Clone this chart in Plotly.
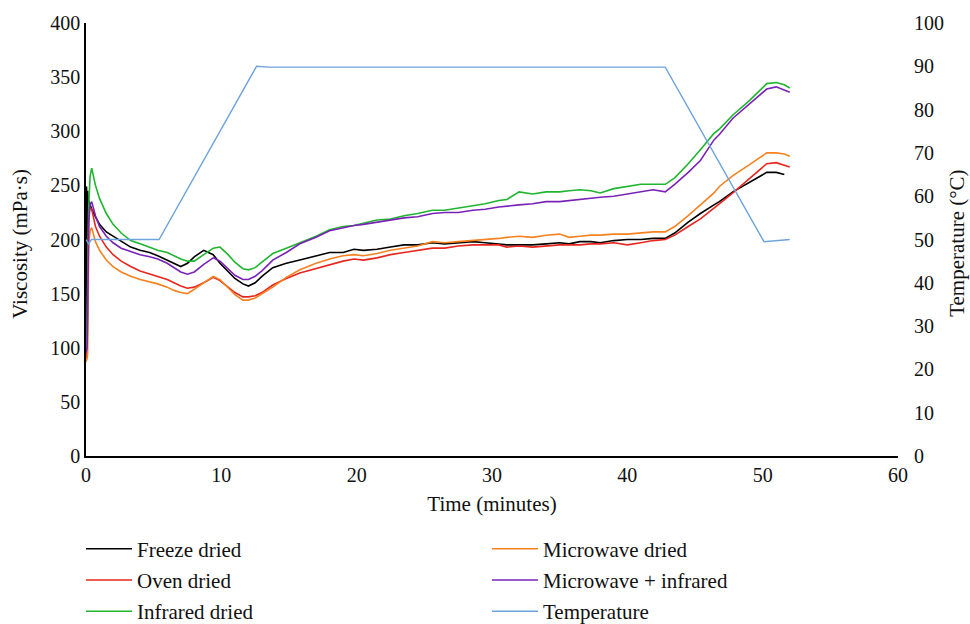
import plotly.graph_objects as go

# Shared time grid (minutes) for viscosity series
time_min = [0, 0.04, 0.08, 0.12, 0.16, 0.2, 0.3, 0.42, 0.7, 1.0,
            1.5, 2.0, 2.6, 3.3, 4.0, 4.7, 5.3, 6.0, 6.5, 7.0,
            7.5, 8.0, 8.7, 9.4, 9.9, 10.5, 11.0, 11.6, 12.0, 12.5,
            13.0, 13.8, 14.8, 15.8, 17.0, 18.0, 19.0, 19.8, 20.5, 21.5,
            22.5, 23.5, 24.5, 25.6, 26.5, 27.5, 28.6, 29.5, 30.5, 31.1,
            32.0, 33.0, 34.0, 35.0, 35.7, 36.5, 37.3, 38.0, 39.0, 40.0,
            41.0, 41.9, 42.8, 43.5, 44.5, 45.4, 46.4, 46.8, 47.8, 49.0,
            50.3, 51.0, 51.6, 52.0]

freeze_dried = [100, 249, 110, 245, 236, 236, 232, 228, 221, 214,
                207, 203, 198, 193, 190, 188, 185, 181, 178, 175,
                178, 184, 190, 186, 178, 170, 164, 159, 157, 160,
                166, 174, 178, 181, 185, 188, 188, 191, 190, 191,
                193, 195, 195, 197, 196, 197, 198, 197, 196, 195,
                195, 195, 196, 197, 196, 198, 198, 197, 199, 200,
                200, 201, 201, 206, 216, 224, 232, 235, 244, 253,
                262, 262, 260, None]

infrared_dried = [98, 100, 120, 160, 200, 230, 258, 266, 250, 238,
                  224, 214, 206, 199, 196, 193, 190, 188, 185, 182,
                  180, 180, 186, 192, 193, 186, 179, 173, 172, 174,
                  179, 187, 192, 197, 203, 209, 212, 213, 215, 218,
                  219, 222, 224, 227, 227, 229, 231, 233, 236, 237,
                  244, 242, 244, 244, 245, 246, 245, 243, 247, 249,
                  251, 251, 251, 257, 270, 283, 298, 302, 315, 328,
                  344, 345, 343, 340]

microwave_infrared = [95, 97, 100, 130, 180, 215, 232, 235, 222, 212,
                      203, 197, 192, 189, 186, 184, 182, 178, 174, 170,
                      168, 170, 177, 183, 180, 173, 167, 163, 163, 166,
                      171, 181, 188, 196, 202, 208, 211, 213, 214, 216,
                      218, 220, 221, 224, 225, 225, 227, 228, 230, 231,
                      232, 233, 235, 235, 236, 237, 238, 239, 240, 242,
                      244, 246, 244, 251, 262, 273, 292, 297, 312, 325,
                      339, 341, 338, 336]

oven_dried = [90, 92, 95, 140, 200, 225, 229, 228, 212, 203,
              193, 186, 180, 175, 171, 168, 166, 163, 160, 157,
              155, 156, 160, 165, 162, 156, 151, 147, 147, 148,
              151, 158, 164, 169, 173, 177, 180, 182, 181, 183,
              186, 188, 190, 192, 192, 194, 195, 195, 195, 193,
              194, 193, 194, 195, 195, 195, 196, 196, 197, 195,
              197, 199, 200, 204, 212, 219, 229, 233, 243, 256,
              270, 271, 269, 267]

microwave_dried = [87, 88, 90, 95, 150, 195, 208, 211, 198, 190,
                   181, 175, 170, 166, 163, 161, 159, 156, 153, 151,
                   150, 154, 160, 166, 163, 155, 149, 144, 144, 146,
                   150, 156, 165, 172, 178, 182, 185, 186, 185, 187,
                   190, 192, 194, 198, 197, 198, 199, 200, 201, 202,
                   203, 202, 204, 205, 202, 203, 204, 204, 205, 205,
                   206, 207, 207, 212, 222, 232, 243, 249, 259, 269,
                   280, 280, 279, 277]

temp_time = [0, 0.1, 0.2, 0.4, 5.4, 12.6, 13.5, 42.8, 50.1, 52.0]
temperature = [50, 49.3, 49, 50, 50, 90, 89.8, 89.8, 49.5, 50]

x_ticks = [0, 10, 20, 30, 40, 50, 60]
y_ticks = [0, 50, 100, 150, 200, 250, 300, 350, 400]
y2_ticks = [0, 10, 20, 30, 40, 50, 60, 70, 80, 90, 100]

x_title = "Time (minutes)"
y_title = "Viscosity (mPa·s)"
y2_title = "Temperature (°C)"

FONT = "Liberation Serif"

fig = go.Figure()

def add(name, y, color, legend):
    fig.add_trace(go.Scatter(x=time_min, y=y, mode="lines", name=name,
                             line=dict(color=color, width=1.6),
                             legend=legend, legendgroup=name, connectgaps=False))

add("Freeze dried", freeze_dried, "#000000", "legend")
add("Oven dried", oven_dried, "#e8261e", "legend")
add("Infrared dried", infrared_dried, "#1fb52f", "legend")
add("Microwave dried", microwave_dried, "#f5821f", "legend2")
add("Microwave + infrared", microwave_infrared, "#7a22b8", "legend2")
fig.add_trace(go.Scatter(x=temp_time, y=temperature, mode="lines", name="Temperature",
                         line=dict(color="#6fa3dc", width=1.4), yaxis="y2",
                         legend="legend2", legendgroup="Temperature"))

legend_common = dict(xref="container", yref="container", yanchor="top", xanchor="left",
                     orientation="v", font=dict(size=21), tracegroupgap=1,
                     itemwidth=46, bgcolor="rgba(0,0,0,0)")

fig.update_layout(
    width=970, height=624,
    margin=dict(l=86, r=72, t=23, b=168, autoexpand=False),
    paper_bgcolor="white", plot_bgcolor="white",
    font=dict(family=FONT, size=19, color="#111111"),
    xaxis=dict(range=[0, 60], tickvals=x_ticks, showgrid=False, zeroline=False,
               showline=True, linecolor="black", linewidth=1.5, ticks="",
               tickfont=dict(size=20),
               title=dict(text=x_title, standoff=12, font=dict(size=21)),
               automargin=False),
    yaxis=dict(range=[0, 400], tickvals=y_ticks, showgrid=False, zeroline=False,
               showline=True, linecolor="black", linewidth=1.5, ticks="",
               tickfont=dict(size=20), automargin=False),
    # labels of the temperature axis, pushed a little away from the axis line
    yaxis2=dict(range=[0, 100], tickvals=y2_ticks, overlaying="y", side="right",
                anchor="x", showgrid=False, zeroline=False, showline=False,
                ticks="outside", ticklen=11, tickcolor="rgba(0,0,0,0)",
                tickfont=dict(size=20), automargin=False),
    # visible line and short tick marks of the temperature axis
    yaxis3=dict(range=[0, 100], tickvals=y2_ticks, overlaying="y", side="right",
                anchor="x", showgrid=False, zeroline=False, showline=True,
                linecolor="black", linewidth=1.5, ticks="outside", ticklen=4,
                tickcolor="black", showticklabels=False, automargin=False),
    legend=dict(x=81 / 970, y=0.153, **legend_common),
    legend2=dict(x=487 / 970, y=0.153, **legend_common),
    annotations=[
        dict(text=y_title, xref="paper", yref="paper", x=(20 - 86) / 812, y=0.49,
             xanchor="center", yanchor="middle", textangle=-90, showarrow=False,
             font=dict(size=21)),
        dict(text=y2_title, xref="paper", yref="paper", x=(957 - 86) / 812, y=0.49,
             xanchor="center", yanchor="middle", textangle=-90, showarrow=False,
             font=dict(size=21)),
    ],
)

fig.write_html("out.html", config={"displayModeBar": False},
               post_script="document.body.style.margin='0';document.body.style.padding='0';")
